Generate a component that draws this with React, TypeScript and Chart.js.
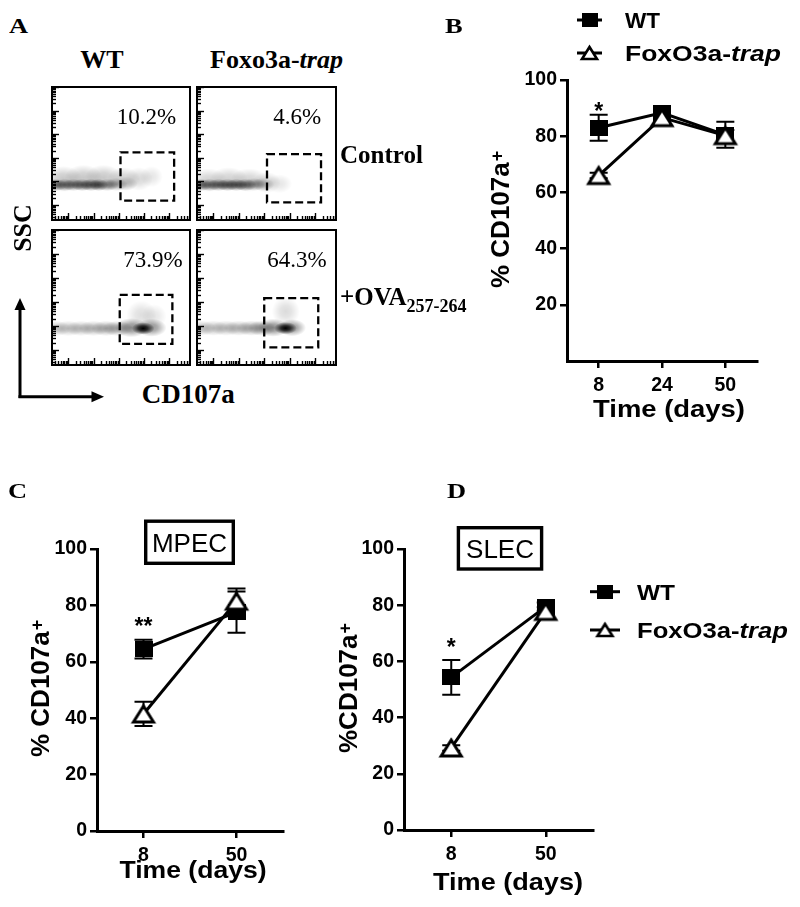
import React, { useEffect, useRef } from 'react';
import { Chart, registerables } from 'chart.js';
Chart.register(...registerables);

const SANS = '"Liberation Sans", Arial, sans-serif';
const SERIF = '"Liberation Serif", "Times New Roman", serif';

// ---------------- Panel B data ----------------
const bDays = ['8', '24', '50'];
const bWt = [83, 88.3, 80.5];
const bWtErr = [4.6, 1.0, 4.6];
const bTrap = [66, 86.6, 80.2];
const bTrapErr = [1.0, 1.5, 2.0];
const bStars = ['*', '', ''];
const bStarY = [90.5, 0, 0];

// ---------------- Panel C data (MPEC) ----------------
const cDays = ['8', '50'];
const cWt = [64.5, 77.6];
const cWtErr = [3.3, 7.3];
const cTrap = [41.5, 81.5];
const cTrapErr = [4.3, 4.5];
const cStars = ['**', ''];
const cStarY = [74.2, 0];

// ---------------- Panel D data (SLEC) ----------------
const dDays = ['8', '50'];
const dWt = [54.3, 79.5];
const dWtErr = [6.2, 1.5];
const dTrap = [29.2, 77.8];
const dTrapErr = [1.0, 1.5];
const dStars = ['*', ''];
const dStarY = [66.7, 0];

const yTickValues = [0, 20, 40, 60, 80, 100];
const legendMain = ['WT', 'FoxO3a-'];
const legendItalic = ['', 'trap'];

// ---------------- Panel A (flow plots, log10 units) ----------------
const flowXRange = [0.31, 5.87];
const flowYRange = [0.32, 6.04];
const flowDecades = [0, 1, 2, 3, 4, 5, 6];
const flowMinor = [2, 3, 4, 5, 6, 7, 8, 9];
const flowPercents = ['10.2%', '4.6%', '73.9%', '64.3%'];
// gate: [xMin, xMax, yMin, yMax]
const gateWtCtrl = [3.07, 5.2, 1.18, 3.23];
const gateTrapCtrl = [3.11, 5.24, 1.11, 3.15];
const gateWtOva = [3.04, 5.13, 1.24, 3.29];
const gateTrapOva = [3.0, 5.13, 1.1, 3.15];
// density blobs: [x, y, spreadX, spreadY, intensity]
const densWtCtrl = [
  [0.5, 1.85, 0.45, 0.26, 0.5], [0.85, 1.85, 0.45, 0.26, 0.5], [1.2, 1.85, 0.45, 0.26, 0.5],
  [1.55, 1.85, 0.45, 0.26, 0.55], [1.9, 1.85, 0.45, 0.26, 0.6], [2.2, 1.85, 0.38, 0.26, 0.6],
  [2.55, 1.85, 0.45, 0.26, 0.45], [2.9, 1.87, 0.45, 0.28, 0.3], [3.3, 1.9, 0.45, 0.3, 0.18],
  [0.8, 2.1, 0.75, 0.55, 0.22], [1.6, 2.15, 0.75, 0.55, 0.22], [2.4, 2.15, 0.75, 0.55, 0.22],
  [3.2, 2.1, 0.65, 0.5, 0.18], [3.8, 2.1, 0.55, 0.5, 0.15], [4.3, 2.2, 0.45, 0.45, 0.1],
];
const densTrapCtrl = [
  [0.5, 1.85, 0.45, 0.26, 0.5], [0.85, 1.85, 0.45, 0.26, 0.5], [1.2, 1.85, 0.45, 0.26, 0.55],
  [1.55, 1.85, 0.45, 0.26, 0.6], [1.9, 1.85, 0.45, 0.26, 0.6], [2.25, 1.85, 0.45, 0.26, 0.55],
  [2.6, 1.87, 0.45, 0.27, 0.38], [2.95, 1.87, 0.45, 0.28, 0.25],
  [0.8, 2.05, 0.75, 0.5, 0.18], [1.6, 2.1, 0.75, 0.5, 0.18], [2.4, 2.05, 0.75, 0.5, 0.18],
  [3.1, 1.95, 0.55, 0.45, 0.16], [3.6, 1.9, 0.5, 0.4, 0.1],
];
const densWtOva = [
  [0.5, 1.89, 0.6, 0.32, 0.22], [1.0, 1.89, 0.6, 0.32, 0.22], [1.5, 1.89, 0.6, 0.32, 0.24],
  [2.0, 1.89, 0.6, 0.32, 0.26], [2.5, 1.89, 0.6, 0.32, 0.3], [2.95, 1.89, 0.6, 0.32, 0.3],
  [3.5, 1.92, 0.65, 0.4, 0.45], [4.3, 1.92, 0.6, 0.38, 0.42],
  [3.97, 1.89, 0.45, 0.26, 1.0],
  [3.9, 2.45, 0.6, 0.6, 0.13], [4.4, 2.4, 0.5, 0.5, 0.1],
];
const densTrapOva = [
  [0.5, 1.9, 0.6, 0.32, 0.22], [1.0, 1.9, 0.6, 0.32, 0.22], [1.5, 1.9, 0.6, 0.32, 0.24],
  [2.0, 1.9, 0.6, 0.32, 0.26], [2.5, 1.9, 0.6, 0.32, 0.3], [2.9, 1.9, 0.55, 0.32, 0.34],
  [3.35, 1.92, 0.6, 0.38, 0.45], [4.1, 1.92, 0.55, 0.36, 0.42],
  [3.84, 1.9, 0.45, 0.26, 1.0],
  [3.85, 2.6, 0.55, 0.6, 0.14],
];

// ---------------- helpers ----------------
function makeSquare(w: number, h: number) {
  const c = document.createElement('canvas');
  c.width = w; c.height = h;
  const ctx = c.getContext('2d')!;
  ctx.fillStyle = '#000';
  ctx.fillRect(0, 0, w, h);
  return c;
}
function makeTriangle(w: number, h: number, lw: number) {
  const pad = Math.ceil(lw * 2);
  const c = document.createElement('canvas');
  c.width = w + pad * 2; c.height = h + pad * 2;
  const ctx = c.getContext('2d')!;
  ctx.beginPath();
  ctx.moveTo(pad + w / 2, pad);
  ctx.lineTo(pad + w, pad + h);
  ctx.lineTo(pad, pad + h);
  ctx.closePath();
  ctx.fillStyle = '#fff';
  ctx.fill();
  ctx.lineJoin = 'miter';
  ctx.lineWidth = lw;
  ctx.strokeStyle = '#000';
  ctx.stroke();
  return c;
}
function drawText(ctx: CanvasRenderingContext2D, text: string, x: number, y: number, font: string, align: 'left' | 'center', targetW?: number) {
  ctx.save();
  ctx.font = font;
  ctx.textBaseline = 'alphabetic';
  ctx.textAlign = 'left';
  const m = ctx.measureText(text).width;
  const sx = targetW ? targetW / m : 1;
  const w = m * sx;
  const x0 = align === 'center' ? x - w / 2 : x;
  ctx.translate(x0, y);
  ctx.scale(sx, 1);
  ctx.fillStyle = '#000';
  ctx.fillText(text, 0, 0);
  ctx.restore();
  return w;
}

type Panel = {
  canvas: { left: number; top: number; w: number; h: number };
  area: { l: number; r: number; t: number; b: number };
  labels: string[];
  wt: number[]; wtErr: number[]; trap: number[]; trapErr: number[];
  stars: string[]; starY: number[];
  showZero: boolean;
  yTitle: { text: string; cx: number; startY: number };
  xTitle: { cx: number; base: number; w: number };
  legend?: { x0: number; x1: number; mx: number; tx: number; rows: number[]; wtW: number; trapW: number };
  inset?: { text: string; x0: number; y0: number; x1: number; y1: number };
};

function decorPlugin(p: Panel) {
  const ox = p.canvas.left, oy = p.canvas.top;
  const legSq = makeSquare(16, 14);
  const legTri = makeTriangle(15, 12, 2.6);
  return {
    id: 'decor',
    beforeDatasetDraw(chart: any, args: any) {
      const i = args.index;
      const vals = i === 0 ? p.wt : p.trap;
      const errs = i === 0 ? p.wtErr : p.trapErr;
      const ys = chart.scales.y;
      const ctx = chart.ctx;
      ctx.save();
      ctx.strokeStyle = '#000';
      ctx.lineWidth = 2;
      args.meta.data.forEach((el: any, k: number) => {
        const x = el.x;
        const t = ys.getPixelForValue(vals[k] + errs[k]);
        const b = ys.getPixelForValue(vals[k] - errs[k]);
        ctx.beginPath();
        ctx.moveTo(x, t); ctx.lineTo(x, b);
        ctx.moveTo(x - 9, t); ctx.lineTo(x + 9, t);
        ctx.moveTo(x - 9, b); ctx.lineTo(x + 9, b);
        ctx.stroke();
      });
      ctx.restore();
    },
    afterDatasetsDraw(chart: any) {
      const ctx = chart.ctx;
      const xs = chart.scales.x, ys = chart.scales.y;
      p.stars.forEach((s, k) => {
        if (!s) return;
        const x = xs.getPixelForValue(k);
        const y = ys.getPixelForValue(p.starY[k]);
        drawText(ctx, s, x, y + 12.5, `bold 23px ${SANS}`, 'center');
      });
    },
    afterDraw(chart: any) {
      const ctx = chart.ctx;
      // y title, rotated, with superscript
      ctx.save();
      const fs = 26;
      ctx.translate(p.yTitle.cx - ox, p.yTitle.startY - oy);
      ctx.rotate(-Math.PI / 2);
      ctx.font = `bold ${fs}px ${SANS}`;
      ctx.fillStyle = '#000';
      ctx.textBaseline = 'alphabetic';
      const capH = fs * 0.716;
      ctx.fillText(p.yTitle.text, 0, capH / 2);
      const w = ctx.measureText(p.yTitle.text).width;
      ctx.font = `bold 18px ${SANS}`;
      ctx.fillText('+', w + 1, capH / 2 - 6);
      ctx.restore();
      // x title
      drawText(ctx, 'Time (days)', p.xTitle.cx - ox, p.xTitle.base - oy, `bold 23px ${SANS}`, 'center', p.xTitle.w);
      // inset label box
      if (p.inset) {
        const q = p.inset;
        ctx.save();
        ctx.lineWidth = 3.4;
        ctx.strokeStyle = '#000';
        ctx.strokeRect(q.x0 - ox + 1.7, q.y0 - oy + 1.7, q.x1 - q.x0 - 3.4, q.y1 - q.y0 - 3.4);
        ctx.restore();
        const cy = (q.y0 + q.y1) / 2 - oy;
        drawText(ctx, q.text, (q.x0 + q.x1) / 2 - ox, cy + 26 * 0.358, `26px ${SANS}`, 'center');
      }
      // legend
      if (p.legend) {
        const L = p.legend;
        [0, 1].forEach((i) => {
          const y = L.rows[i] - oy;
          ctx.save();
          ctx.strokeStyle = '#000';
          ctx.lineWidth = 3;
          ctx.beginPath();
          ctx.moveTo(L.x0 - ox, y); ctx.lineTo(L.x1 - ox, y);
          ctx.stroke();
          const img = i === 0 ? legSq : legTri;
          ctx.drawImage(img, L.mx - ox - img.width / 2, y - img.height / 2);
          ctx.restore();
          const base = y + 22 * 0.358;
          if (i === 0) {
            drawText(ctx, legendMain[0], L.tx - ox, base, `bold 22px ${SANS}`, 'left', L.wtW);
          } else {
            ctx.save();
            ctx.font = `bold 22px ${SANS}`;
            const m1 = ctx.measureText(legendMain[1]).width;
            ctx.font = `italic bold 22px ${SANS}`;
            const m2 = ctx.measureText(legendItalic[1]).width;
            ctx.restore();
            const sx = L.trapW / (m1 + m2);
            const w1 = drawText(ctx, legendMain[1], L.tx - ox, base, `bold 22px ${SANS}`, 'left', m1 * sx);
            drawText(ctx, legendItalic[1], L.tx - ox + w1, base, `italic bold 22px ${SANS}`, 'left', m2 * sx);
          }
        });
      }
    },
  };
}

function lineConfig(p: Panel): any {
  const sq = makeSquare(18, 16);
  const tri = makeTriangle(20, 16, 3);
  const yW = p.area.l - p.canvas.left;
  const xH = p.canvas.top + p.canvas.h - p.area.b;
  const tickFont = { family: SANS, size: 19.5, weight: 'bold' as const };
  const grid = { display: true, drawOnChartArea: false, drawTicks: true, tickLength: 7, lineWidth: 2.5, color: '#000', offset: false };
  const border = { display: true, width: 3, color: '#000' };
  return {
    type: 'line',
    data: {
      labels: p.labels,
      datasets: [
        { label: 'WT', data: p.wt, borderColor: '#000', backgroundColor: '#000', borderWidth: 3, pointStyle: sq, pointRadius: 9, pointHoverRadius: 9, order: 1, clip: false, tension: 0 },
        { label: 'FoxO3a-trap', data: p.trap, borderColor: '#000', backgroundColor: '#fff', borderWidth: 3, pointStyle: tri, pointRadius: 11, pointHoverRadius: 11, order: 0, clip: false, tension: 0 },
      ],
    },
    options: {
      animation: false,
      responsive: false,
      events: [],
      layout: { padding: { left: 0, top: p.area.t - p.canvas.top, right: p.canvas.left + p.canvas.w - p.area.r, bottom: 0 } },
      plugins: { legend: { display: false }, tooltip: { enabled: false } },
      scales: {
        x: {
          type: 'category',
          offset: true,
          grid,
          border,
          ticks: { color: '#000', font: tickFont, padding: 6, maxRotation: 0, autoSkip: false },
          afterFit: (s: any) => { s.height = xH; },
        },
        y: {
          type: 'linear',
          min: 0,
          max: 100,
          grid,
          border,
          ticks: { color: '#000', font: tickFont, padding: 3, callback: (v: any) => String(v) },
          afterBuildTicks: (s: any) => {
            s.ticks = yTickValues.filter((v) => p.showZero || v !== 0).map((v) => ({ value: v }));
          },
          afterFit: (s: any) => { s.width = yW; },
        },
      },
    },
    plugins: [decorPlugin(p)],
  };
}

function flowPlugin(blobs: number[][], gate: number[]) {
  return {
    id: 'flow',
    beforeDatasetsDraw(chart: any) {
      const ctx = chart.ctx;
      const a = chart.chartArea;
      const xs = chart.scales.x, ys = chart.scales.y;
      const meta = chart.getDatasetMeta(0);
      ctx.save();
      ctx.beginPath();
      ctx.rect(a.left, a.top, a.right - a.left, a.bottom - a.top);
      ctx.clip();
      blobs.forEach((b, i) => {
        const el = meta.data[i];
        const rx = Math.abs(xs.getPixelForValue(b[0] + b[2]) - el.x);
        const ry = Math.abs(ys.getPixelForValue(b[1] + b[3]) - el.y);
        ctx.save();
        ctx.translate(el.x, el.y);
        ctx.scale(rx, ry);
        const g = ctx.createRadialGradient(0, 0, 0, 0, 0, 1);
        g.addColorStop(0, `rgba(0,0,0,${b[4]})`);
        g.addColorStop(0.4, `rgba(0,0,0,${b[4] * 0.75})`);
        g.addColorStop(0.75, `rgba(0,0,0,${b[4] * 0.3})`);
        g.addColorStop(1, 'rgba(0,0,0,0)');
        ctx.fillStyle = g;
        ctx.beginPath();
        ctx.arc(0, 0, 1, 0, Math.PI * 2);
        ctx.fill();
        ctx.restore();
      });
      ctx.restore();
    },
    afterDraw(chart: any) {
      const ctx = chart.ctx;
      const a = chart.chartArea;
      const xs = chart.scales.x, ys = chart.scales.y;
      ctx.save();
      ctx.strokeStyle = '#000';
      // ticks
      ctx.lineWidth = 1.4;
      flowDecades.forEach((d) => {
        const vals = [d, ...flowMinor.map((m) => d + Math.log10(m))];
        vals.forEach((v, j) => {
          const len = j === 0 ? 7 : 4;
          if (v > flowXRange[0] && v < flowXRange[1]) {
            const x = Math.round(xs.getPixelForValue(v)) + 0.5;
            ctx.beginPath(); ctx.moveTo(x, a.bottom - 1); ctx.lineTo(x, a.bottom - 1 - len); ctx.stroke();
          }
          if (v > flowYRange[0] && v < flowYRange[1]) {
            const y = Math.round(ys.getPixelForValue(v)) + 0.5;
            ctx.beginPath(); ctx.moveTo(a.left + 1, y); ctx.lineTo(a.left + 1 + len, y); ctx.stroke();
          }
        });
      });
      // frame
      ctx.lineWidth = 2;
      ctx.strokeRect(a.left + 1, a.top + 1, a.right - a.left - 2, a.bottom - a.top - 2);
      // gate
      ctx.lineWidth = 2.3;
      ctx.setLineDash([8, 4]);
      const gx0 = xs.getPixelForValue(gate[0]), gx1 = xs.getPixelForValue(gate[1]);
      const gy0 = ys.getPixelForValue(gate[3]), gy1 = ys.getPixelForValue(gate[2]);
      ctx.strokeRect(gx0, gy0, gx1 - gx0, gy1 - gy0);
      ctx.restore();
    },
  };
}

function flowConfig(blobs: number[][], gate: number[]): any {
  return {
    type: 'scatter',
    data: { datasets: [{ data: blobs.map((b) => ({ x: b[0], y: b[1] })), pointRadius: 0, showLine: false }] },
    options: {
      animation: false,
      responsive: false,
      events: [],
      layout: { padding: 0 },
      plugins: { legend: { display: false }, tooltip: { enabled: false } },
      scales: {
        x: { type: 'linear', min: flowXRange[0], max: flowXRange[1], display: false },
        y: { type: 'linear', min: flowYRange[0], max: flowYRange[1], display: false },
      },
    },
    plugins: [flowPlugin(blobs, gate)],
  };
}

function ChartCanvas({ left, top, width, height, make }: { left: number; top: number; width: number; height: number; make: () => any }) {
  const ref = useRef<HTMLCanvasElement>(null);
  useEffect(() => {
    const chart = new Chart(ref.current!, make());
    return () => chart.destroy();
  }, []);
  return <canvas ref={ref} width={width} height={height} style={{ position: 'absolute', left, top, width, height }} />;
}

function Txt({ x, base, size, serif = true, bold = false, italic = false, center = false, sx = 1, children }: any) {
  const asc = serif ? 0.8375 : 0.8465;
  return (
    <div
      style={{
        position: 'absolute',
        left: x,
        top: base - asc * size,
        fontFamily: serif ? SERIF : SANS,
        fontSize: size,
        lineHeight: `${size}px`,
        fontWeight: bold ? 'bold' : 'normal',
        fontStyle: italic ? 'italic' : 'normal',
        whiteSpace: 'nowrap',
        color: '#000',
        transform: `${center ? 'translateX(-50%) ' : ''}scaleX(${sx})`,
        transformOrigin: center ? 'center' : 'left',
      }}
    >
      {children}
    </div>
  );
}

const panelB: Panel = {
  canvas: { left: 400, top: 0, w: 400, h: 445 },
  area: { l: 567, r: 757, t: 80, b: 361 },
  labels: bDays, wt: bWt, wtErr: bWtErr, trap: bTrap, trapErr: bTrapErr,
  stars: bStars, starY: bStarY, showZero: false,
  yTitle: { text: '% CD107a', cx: 500, startY: 288 },
  xTitle: { cx: 669, base: 417, w: 152 },
  legend: { x0: 577, x1: 602, mx: 589.5, tx: 625, rows: [20, 53], wtW: 35, trapW: 156 },
};
const panelC: Panel = {
  canvas: { left: 0, top: 460, w: 400, h: 447 },
  area: { l: 97, r: 283, t: 549, b: 831 },
  labels: cDays, wt: cWt, wtErr: cWtErr, trap: cTrap, trapErr: cTrapErr,
  stars: cStars, starY: cStarY, showZero: true,
  yTitle: { text: '% CD107a', cx: 40, startY: 757 },
  xTitle: { cx: 193, base: 878, w: 147 },
  inset: { text: 'MPEC', x0: 144, y0: 519.5, x1: 235, y1: 565 },
};
const panelD: Panel = {
  canvas: { left: 300, top: 460, w: 500, h: 447 },
  area: { l: 404, r: 593, t: 549, b: 830 },
  labels: dDays, wt: dWt, wtErr: dWtErr, trap: dTrap, trapErr: dTrapErr,
  stars: dStars, starY: dStarY, showZero: true,
  yTitle: { text: '%CD107a', cx: 347.5, startY: 753 },
  xTitle: { cx: 508, base: 890, w: 150 },
  legend: { x0: 590, x1: 620, mx: 605, tx: 637, rows: [591.7, 630], wtW: 38, trapW: 151 },
  inset: { text: 'SLEC', x0: 456.7, y0: 526, x1: 543.3, y1: 570.7 },
};

export default function App() {
  return (
    <div style={{ position: 'absolute', left: 0, top: 0, width: 800, height: 907, background: '#fff', overflow: 'hidden' }}>
      {/* Panel A flow plots */}
      <ChartCanvas left={51} top={86} width={140} height={135} make={() => flowConfig(densWtCtrl, gateWtCtrl)} />
      <ChartCanvas left={196} top={86} width={141} height={135} make={() => flowConfig(densTrapCtrl, gateTrapCtrl)} />
      <ChartCanvas left={51} top={229} width={140} height={137} make={() => flowConfig(densWtOva, gateWtOva)} />
      <ChartCanvas left={196} top={229} width={141} height={137} make={() => flowConfig(densTrapOva, gateTrapOva)} />

      {/* Line charts */}
      <ChartCanvas left={panelC.canvas.left} top={panelC.canvas.top} width={panelC.canvas.w} height={panelC.canvas.h} make={() => lineConfig(panelC)} />
      <ChartCanvas left={panelD.canvas.left} top={panelD.canvas.top} width={panelD.canvas.w} height={panelD.canvas.h} make={() => lineConfig(panelD)} />
      <ChartCanvas left={panelB.canvas.left} top={panelB.canvas.top} width={panelB.canvas.w} height={panelB.canvas.h} make={() => lineConfig(panelB)} />

      {/* Panel letters */}
      <Txt x={9} base={33.3} size={22} bold sx={1.2}>A</Txt>
      <Txt x={445} base={33.3} size={22} bold sx={1.2}>B</Txt>
      <Txt x={8} base={498} size={22} bold sx={1.2}>C</Txt>
      <Txt x={447} base={498} size={22} bold sx={1.2}>D</Txt>

      {/* Panel A texts */}
      <Txt x={102} base={68.3} size={26} bold center>WT</Txt>
      <Txt x={210} base={68.3} size={26} bold>Foxo3a-<i>trap</i></Txt>
      <Txt x={116.7} base={124} size={23}>{flowPercents[0]}</Txt>
      <Txt x={273.3} base={124} size={23}>{flowPercents[1]}</Txt>
      <Txt x={123.3} base={267.7} size={23}>{flowPercents[2]}</Txt>
      <Txt x={267.3} base={267.7} size={23}>{flowPercents[3]}</Txt>
      <Txt x={340} base={162.5} size={25} bold>Control</Txt>
      <Txt x={340} base={305} size={25} bold>
        +OVA<span style={{ fontSize: 18, position: 'relative', top: 7 }}>257-264</span>
      </Txt>
      <Txt x={141.7} base={403.3} size={27} bold>CD107a</Txt>
      <div
        style={{
          position: 'absolute', left: 23, top: 228, fontFamily: SERIF, fontSize: 26, lineHeight: '26px',
          fontWeight: 'bold', whiteSpace: 'nowrap', transform: 'translate(-50%, -50%) rotate(-90deg)',
        }}
      >
        SSC
      </div>
      <svg style={{ position: 'absolute', left: 0, top: 0 }} width={120} height={420}>
        <line x1={20} y1={398} x2={20} y2={308} stroke="#000" strokeWidth={3} />
        <polygon points="20,298 14.5,310 25.5,310" fill="#000" />
        <line x1={18.5} y1={396.7} x2={93} y2={396.7} stroke="#000" strokeWidth={3} />
        <polygon points="104,396.7 91.5,391.2 91.5,402.2" fill="#000" />
      </svg>
    </div>
  );
}
